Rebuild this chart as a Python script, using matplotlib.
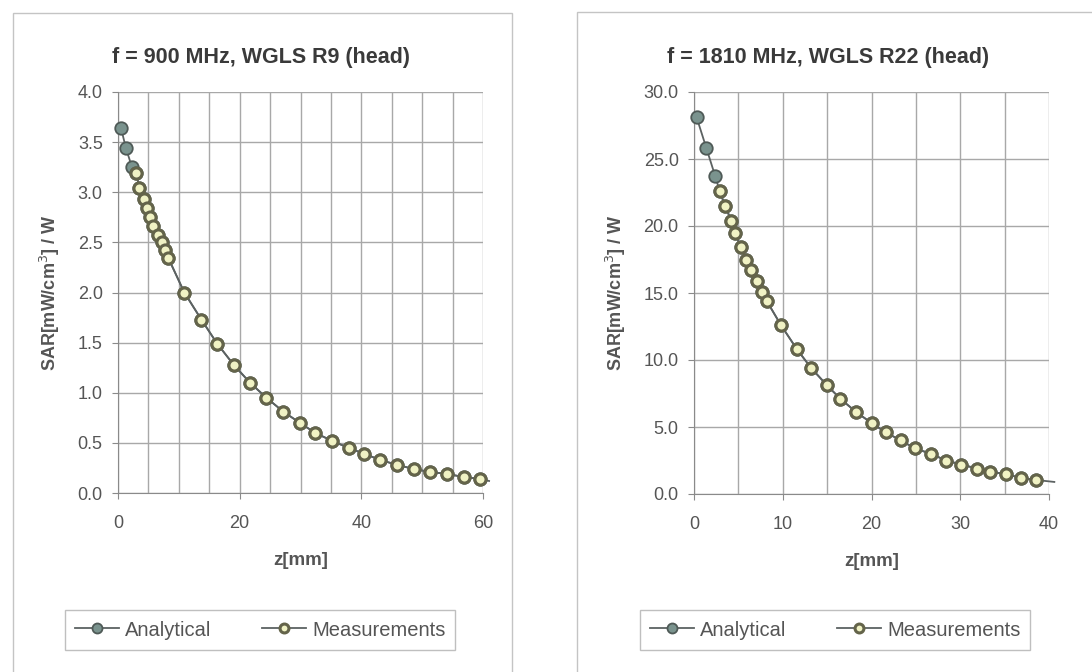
import numpy as np
import matplotlib
matplotlib.use("Agg")
import matplotlib.pyplot as plt
from matplotlib.patches import Rectangle
from matplotlib.ticker import MultipleLocator, FormatStrFormatter

plt.rcParams['font.family'] = ['Liberation Sans', 'DejaVu Sans']

# --- left chart: f = 900 MHz ---
titleL = "f = 900 MHz, WGLS R9 (head)"
zL_an = [0.5, 1.3, 2.3, 3.0, 3.5, 4.2, 4.8, 5.3, 5.8, 6.5, 7.3, 7.8, 8.3, 10.9, 13.7, 16.3,
         19.0, 21.7, 24.4, 27.2, 29.9, 32.4, 35.2, 37.9, 40.5, 43.1, 45.9, 48.6, 51.3, 54.1,
         56.8, 59.5, 61.0]
sL_an = [3.64, 3.44, 3.25, 3.19, 3.04, 2.93, 2.84, 2.75, 2.66, 2.57, 2.50, 2.42, 2.34, 2.00,
         1.73, 1.49, 1.28, 1.10, 0.95, 0.81, 0.70, 0.60, 0.52, 0.45, 0.39, 0.33, 0.28, 0.24,
         0.21, 0.19, 0.16, 0.14, 0.12]
zL_meas = [3.0, 3.5, 4.2, 4.8, 5.3, 5.8, 6.5, 7.3, 7.8, 8.3, 10.9, 13.7, 16.3, 19.0, 21.7,
           24.4, 27.2, 29.9, 32.4, 35.2, 37.9, 40.5, 43.1, 45.9, 48.6, 51.3, 54.1, 56.8, 59.5]
sL_meas = [3.19, 3.04, 2.93, 2.84, 2.75, 2.66, 2.57, 2.50, 2.42, 2.34, 2.00, 1.73, 1.49, 1.28,
           1.10, 0.95, 0.81, 0.70, 0.60, 0.52, 0.45, 0.39, 0.33, 0.28, 0.24, 0.21, 0.19, 0.16, 0.14]

# --- right chart: f = 1810 MHz ---
titleR = "f = 1810 MHz, WGLS R22 (head)"
zR_an = [0.3, 1.4, 2.4, 2.9, 3.5, 4.2, 4.6, 5.3, 5.9, 6.4, 7.1, 7.7, 8.2, 9.8, 11.6, 13.2,
         15.0, 16.5, 18.3, 20.0, 21.6, 23.3, 24.9, 26.7, 28.4, 30.1, 31.9, 33.4, 35.1, 36.8,
         38.5, 40.6]
sR_an = [28.1, 25.8, 23.7, 22.6, 21.5, 20.4, 19.5, 18.4, 17.5, 16.7, 15.9, 15.1, 14.4, 12.6,
         10.8, 9.4, 8.1, 7.1, 6.1, 5.3, 4.6, 4.0, 3.4, 3.0, 2.5, 2.2, 1.9, 1.65, 1.5, 1.2,
         1.05, 0.9]
zR_meas = [2.9, 3.5, 4.2, 4.6, 5.3, 5.9, 6.4, 7.1, 7.7, 8.2, 9.8, 11.6, 13.2, 15.0, 16.5,
           18.3, 20.0, 21.6, 23.3, 24.9, 26.7, 28.4, 30.1, 31.9, 33.4, 35.1, 36.8, 38.5]
sR_meas = [22.6, 21.5, 20.4, 19.5, 18.4, 17.5, 16.7, 15.9, 15.1, 14.4, 12.6, 10.8, 9.4, 8.1,
           7.1, 6.1, 5.3, 4.6, 4.0, 3.4, 3.0, 2.5, 2.2, 1.9, 1.65, 1.5, 1.2, 1.05]

line_col = '#5c6262'
an_face, an_edge = '#7a938e', '#4f5a57'
me_face, me_edge = '#f0f2c4', '#64644a'
grid_col = '#a8a8a8'
text_col = '#555555'

fig = plt.figure(figsize=(10.92, 6.72), dpi=100)
fig.patch.set_facecolor('white')

# chart area frames
for x0, y0, w, h in [(13, 13, 499, 700), (577, 12, 600, 700)]:
    fig.patches.append(Rectangle((x0 / 1092, 1 - (y0 + h) / 672), w / 1092, h / 672,
                                 transform=fig.transFigure, fill=False,
                                 edgecolor='#c4c4c4', lw=1.0))


def draw(ax, z_an, s_an, z_me, s_me, xmax, xmajor, ymax, ystep):
    ax.plot(z_an, s_an, color=line_col, lw=1.3, marker='o', ms=9, mfc=an_face,
            mec=an_edge, mew=1.3, markevery=slice(0, -1), clip_on=False, zorder=3,
            label='Analytical')
    ax.plot(z_me, s_me, color=line_col, lw=1.3, marker='o', ms=8, mfc=me_face,
            mec=me_edge, mew=2.2, clip_on=False, zorder=4, label='Measurements')
    ax.set_xlim(0, xmax)
    ax.set_ylim(0, ymax)
    ax.xaxis.set_major_locator(MultipleLocator(xmajor))
    ax.xaxis.set_minor_locator(MultipleLocator(5))
    ax.yaxis.set_major_locator(MultipleLocator(ystep))
    ax.yaxis.set_major_formatter(FormatStrFormatter('%.1f'))
    ax.grid(True, which='both', color=grid_col, lw=1.0)
    ax.set_axisbelow(True)
    for sp in ['top', 'right']:
        ax.spines[sp].set_visible(False)
    for sp in ['left', 'bottom']:
        ax.spines[sp].set_color('#8a8a8a')
    ax.tick_params(which='major', direction='out', length=4, color='#8a8a8a',
                   labelsize=13, labelcolor=text_col, pad=7)
    ax.tick_params(axis='x', pad=12)
    ax.tick_params(which='minor', length=0)
    ax.set_xlabel('z[mm]', fontsize=13.5, fontweight='bold', color=text_col, labelpad=14)
    ax.set_ylabel('SAR[mW/cm$^3$] / W', fontsize=13, fontweight='bold', color=text_col,
                  labelpad=11)


axL = fig.add_axes([118 / 1092, 1 - 493 / 672, 365 / 1092, 401 / 672])
draw(axL, zL_an, sL_an, zL_meas, sL_meas, 60, 20, 4.0, 0.5)
axR = fig.add_axes([694 / 1092, 1 - 494 / 672, 355 / 1092, 402 / 672])
draw(axR, zR_an, sR_an, zR_meas, sR_meas, 40, 10, 30.0, 5.0)

fig.text(261 / 1092, 1 - 57 / 672, titleL, ha='center', va='center', fontsize=15.5,
         fontweight='bold', color='#3a3a3a')
fig.text(828 / 1092, 1 - 57 / 672, titleR, ha='center', va='center', fontsize=15.5,
         fontweight='bold', color='#3a3a3a')

for ax, cx in [(axL, 260), (axR, 835)]:
    h, l = ax.get_legend_handles_labels()
    fig.legend(h, l, loc='center', bbox_to_anchor=(cx / 1092, 1 - 630 / 672), ncol=2,
               frameon=True, fancybox=False, edgecolor='#b0b0b0', fontsize=14.5,
               labelcolor=text_col, handlelength=2.2, columnspacing=2.5,
               borderpad=0.5, handletextpad=0.3, markerscale=0.8)

fig.savefig('out.png', dpi=100)
